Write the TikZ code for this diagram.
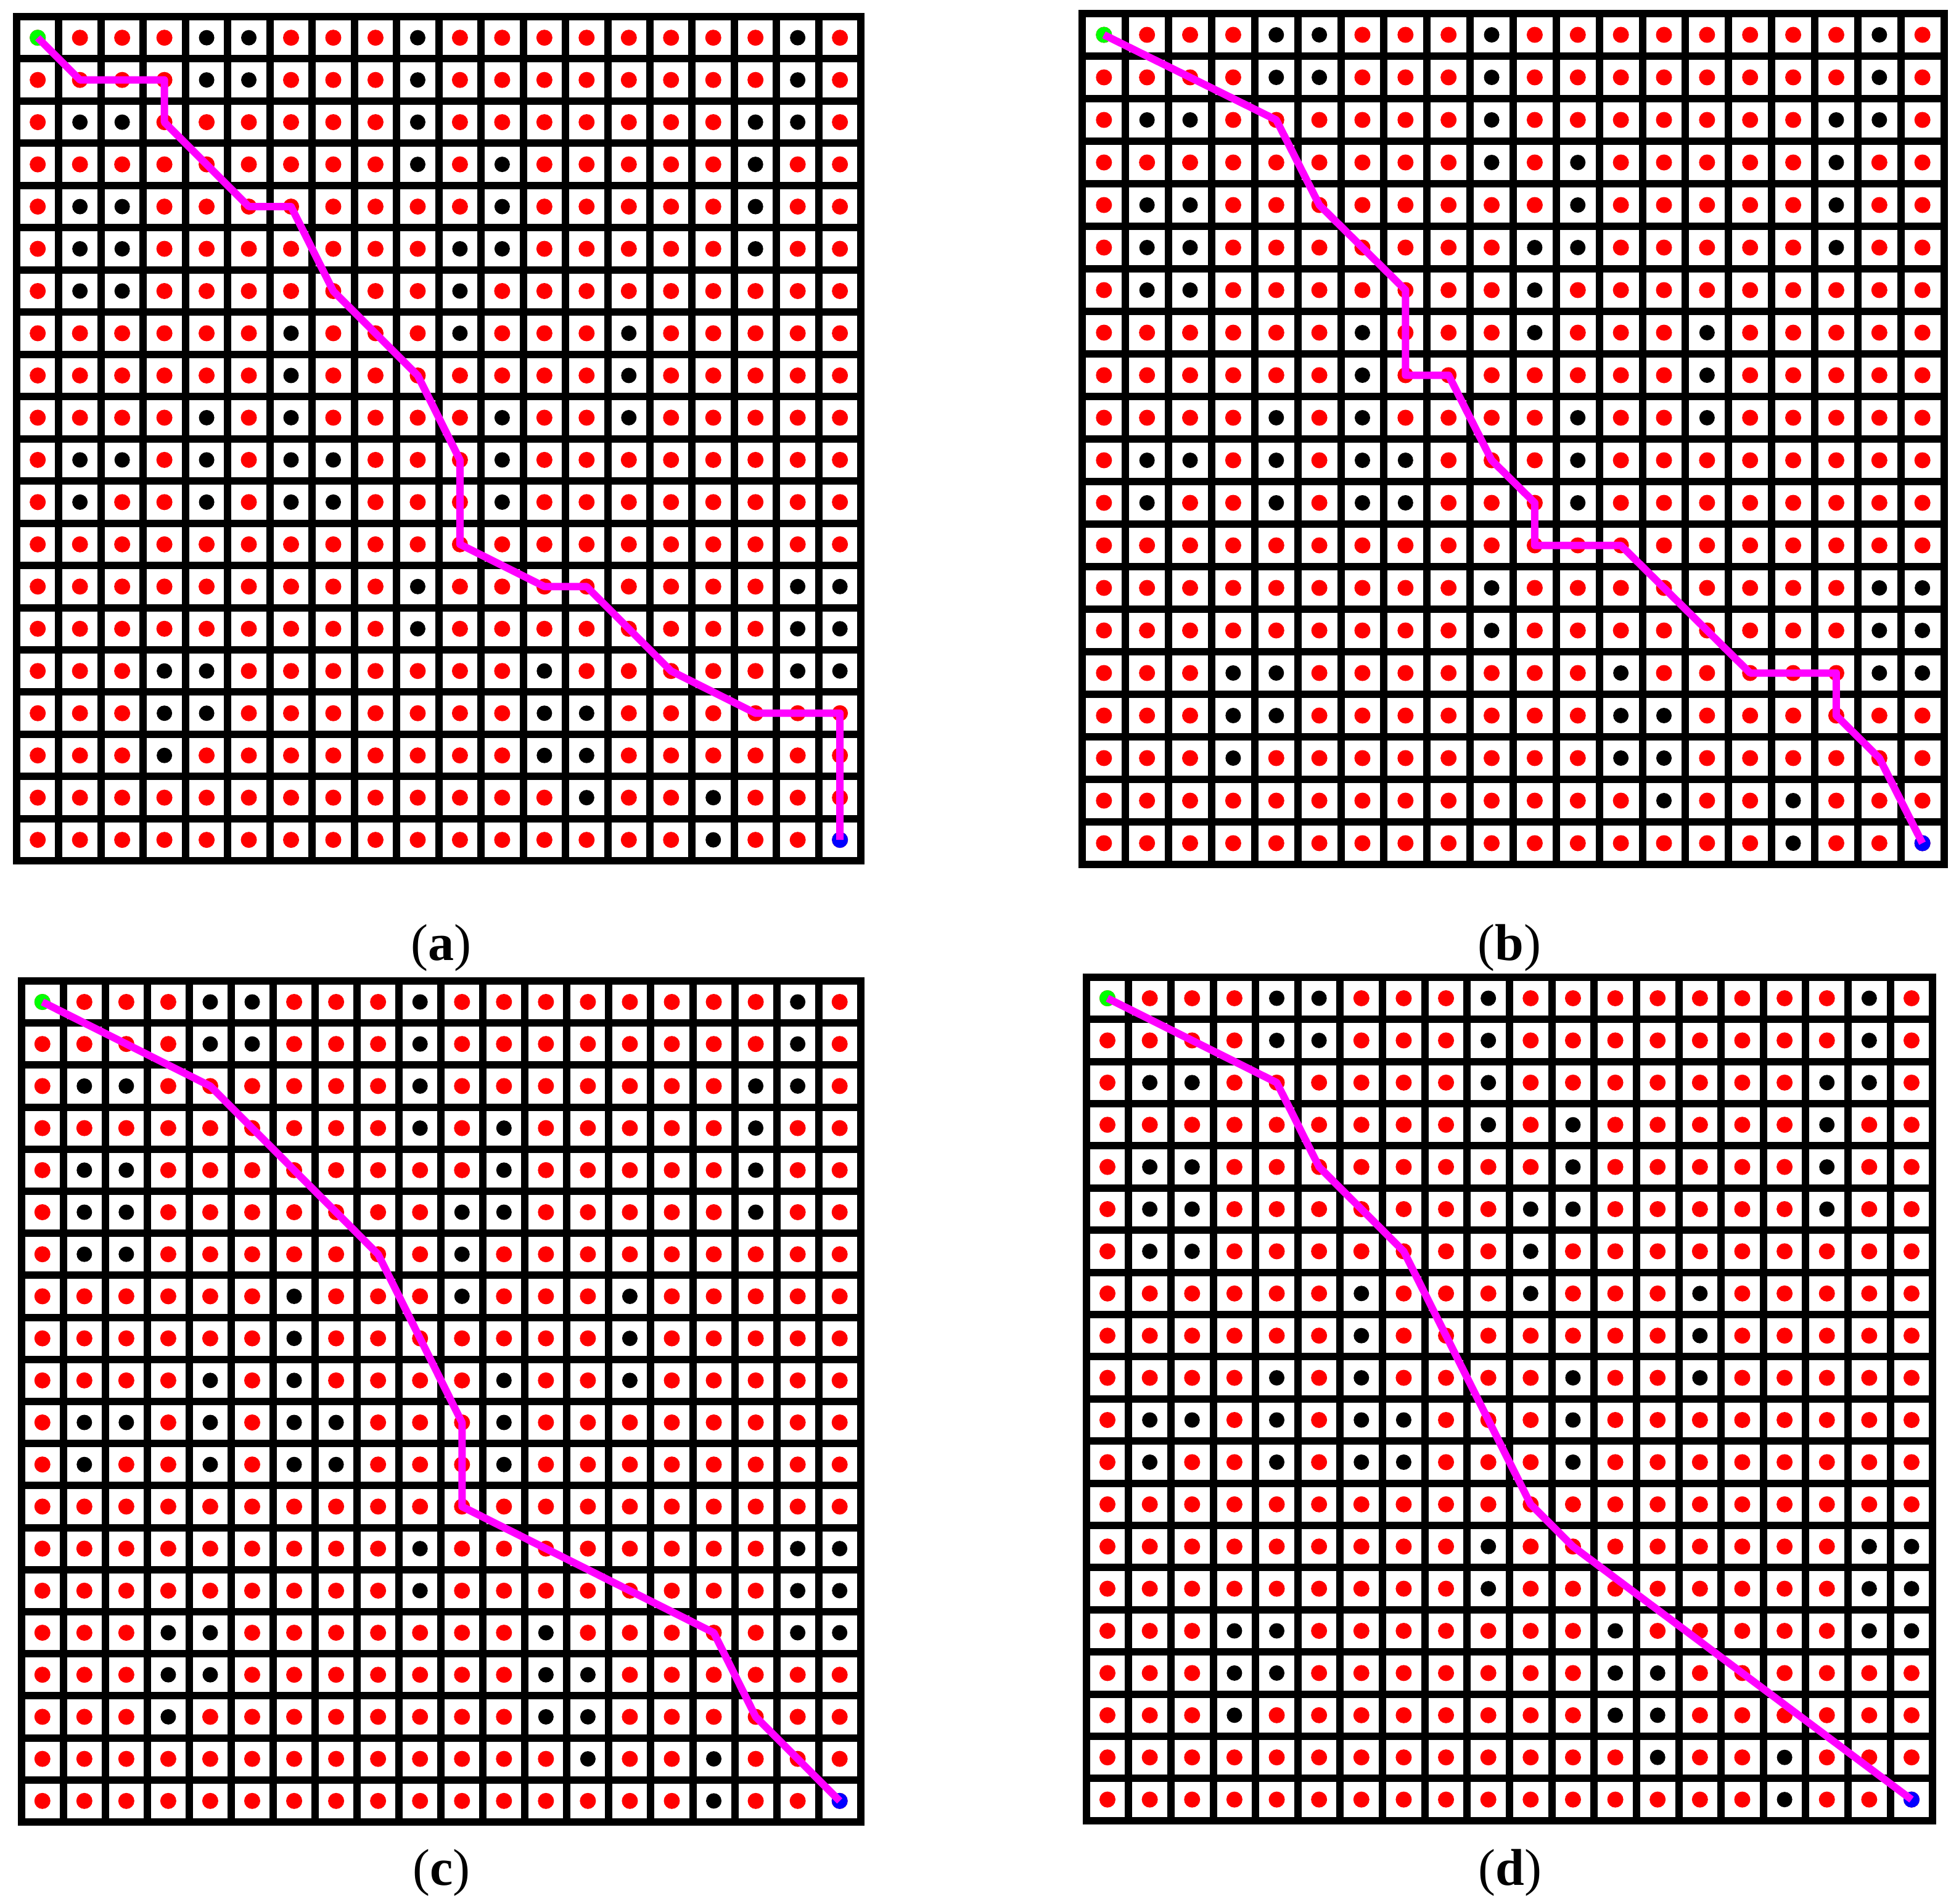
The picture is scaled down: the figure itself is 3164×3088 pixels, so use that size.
\documentclass[tikz,border=0pt]{standalone}
\usepackage{fontspec}
\setmainfont{Liberation Serif}
\definecolor{pathmag}{RGB}{255,0,255}
\definecolor{dotred}{RGB}{255,0,0}
\definecolor{dotgreen}{RGB}{0,255,0}
\definecolor{dotblue}{RGB}{0,0,255}
\def\obstlist{0/4,0/5,0/9,0/18,1/4,1/5,1/9,1/18,2/1,2/2,2/9,2/17,2/18,3/9,3/11,3/17,4/1,4/2,4/11,4/17,5/1,5/2,5/10,5/11,5/17,6/1,6/2,6/10,7/6,7/10,7/14,8/6,8/14,9/4,9/6,9/11,9/14,10/1,10/2,10/4,10/6,10/7,10/11,11/1,11/4,11/6,11/7,11/11,13/9,13/18,13/19,14/9,14/18,14/19,15/3,15/4,15/12,15/18,15/19,16/3,16/4,16/12,16/13,17/3,17/12,17/13,18/13,18/16,19/16}
\tikzset{
  gridline/.style={line width=12pt, line cap=rect, draw=black},
  freedot/.style={fill=dotred},
  obstdot/.style={fill=black},
  startdot/.style={fill=dotgreen},
  goaldot/.style={fill=dotblue},
  pathline/.style={draw=pathmag, line width=12pt, line join=round},
  lab/.style={anchor=base, font=\fontsize{84}{100}\selectfont}
}
\newcommand\planmap[5]{%
\begin{scope}[shift={(#1,#2)},x=#3pt,y=-#4pt]
  \foreach \k in {0,...,20}{%
    \draw[gridline] (\k-0.5,-0.5) -- (\k-0.5,19.5);
    \draw[gridline] (-0.5,\k-0.5) -- (19.5,\k-0.5);}
  \foreach \r in {0,...,19}{\foreach \c in {0,...,19}{\fill[freedot] (\c,\r) circle[radius=13pt];}}
  \foreach \r/\c in \obstlist {\fill[white] (\c,\r) circle[radius=14pt]; \fill[obstdot] (\c,\r) circle[radius=12.5pt];}
  \fill[startdot] (0,0) circle[radius=13pt];
  \fill[goaldot] (19,19) circle[radius=13pt];
  \draw[pathline] #5;
\end{scope}}
\begin{document}
\begin{tikzpicture}[x=1pt,y=-1pt]
\useasboundingbox (0,0) rectangle (3164,3088);
\fill[white] (0,0) rectangle (3164,3088);
\planmap{61.2}{61.2}{68.47}{68.47}{(0,0)--(1,1)--(3,1)--(3,2)--(5,4)--(6,4)--(7,6)--(9,8)--(10,10)--(10,12)--(12,13)--(13,13)--(15,15)--(17,16)--(19,16)--(19,19)}
\planmap{1790.3}{56.5}{69.86}{69.0}{(0,0)--(4,2)--(5,4)--(7,6)--(7,8)--(8,8)--(9,10)--(10,11)--(10,12)--(12,12)--(15,15)--(17,15)--(17,16)--(18,17)--(19,19)}
\planmap{68.75}{1625}{68.05}{68.2}{(0,0)--(4,2)--(8,6)--(10,10)--(10,12)--(16,15)--(17,17)--(19,19)}
\planmap{1796}{1619}{68.63}{68.4}{(0,0)--(4,2)--(5,4)--(7,6)--(9,10)--(10,12)--(11,13)--(19,19)}
\node[lab] (la) at (715,1557) {(\textbf{a})};
\node[lab] (lb) at (2448,1557) {(\textbf{b})};
\node[lab] (lc) at (716,3057) {(\textbf{c})};
\node[lab] (ld) at (2449,3057) {(\textbf{d})};
\end{tikzpicture}
\end{document}
